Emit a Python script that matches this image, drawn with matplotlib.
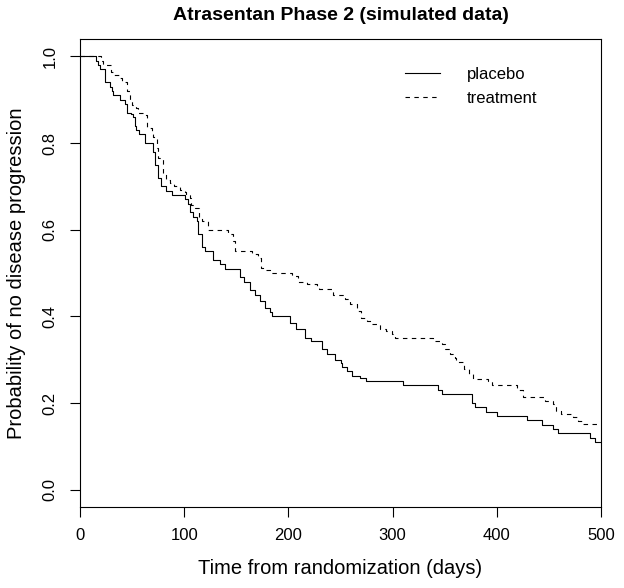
import matplotlib
matplotlib.use("Agg")
import matplotlib.pyplot as plt

plt.rcParams['font.family'] = ['Liberation Sans', 'DejaVu Sans']

# Kaplan-Meier steps: time (days) at which the curve
# drops, and the survival value after the drop
placebo_t = [0, 15, 17, 19, 24, 29, 31, 32, 38, 43, 45, 49, 51, 53, 54, 57, 62,
             70, 72, 75, 78, 83, 88, 101, 104, 106, 108, 112, 113, 117, 120,
             128, 134, 139, 154, 157, 163, 168, 173, 178, 182, 184, 202, 207,
             216, 222, 232, 237, 245, 250, 251, 256, 261, 269, 274, 310, 344,
             347, 376, 379, 390, 400, 429, 443, 454, 459, 489, 494, 500]
placebo_s = [1.0, 0.99, 0.98, 0.97, 0.94, 0.93, 0.92, 0.91, 0.90, 0.89, 0.87,
             0.866, 0.86, 0.84, 0.83, 0.82, 0.80, 0.78, 0.75, 0.72, 0.70, 0.69,
             0.68, 0.67, 0.66, 0.64, 0.63, 0.62, 0.59, 0.56, 0.55, 0.53, 0.52,
             0.51, 0.49, 0.48, 0.46, 0.45, 0.435, 0.42, 0.41, 0.40, 0.385,
             0.37, 0.35, 0.343, 0.324, 0.313, 0.30, 0.293, 0.282, 0.274, 0.263,
             0.257, 0.25, 0.241, 0.23, 0.22, 0.20, 0.19, 0.18, 0.17, 0.16,
             0.15, 0.14, 0.13, 0.12, 0.11, 0.11]

treatment_t = [0, 20, 22, 30, 32, 37, 40, 45, 48, 50, 54, 56, 61, 64, 69, 70,
               74, 75, 80, 83, 86, 90, 96, 101, 102, 106, 107, 110, 114, 117,
               123, 142, 147, 149, 165, 171, 174, 178, 182, 203, 209, 218, 227,
               229, 243, 254, 259, 266, 270, 275, 280, 288, 294, 299, 302, 339,
               347, 350, 355, 360, 361, 369, 373, 377, 392, 395, 419, 425, 446,
               454, 457, 462, 473, 478, 483, 500]
treatment_s = [1.0, 0.99, 0.98, 0.965, 0.956, 0.95, 0.94, 0.92, 0.90, 0.887,
               0.88, 0.87, 0.864, 0.834, 0.826, 0.815, 0.788, 0.765, 0.73,
               0.715, 0.707, 0.70, 0.692, 0.688, 0.68, 0.672, 0.657, 0.65,
               0.627, 0.62, 0.60, 0.59, 0.573, 0.55, 0.543, 0.535, 0.512,
               0.508, 0.50, 0.493, 0.48, 0.474, 0.466, 0.462, 0.45, 0.44,
               0.428, 0.412, 0.397, 0.389, 0.382, 0.37, 0.366, 0.359, 0.351,
               0.343, 0.336, 0.324, 0.313, 0.305, 0.294, 0.278, 0.267, 0.255,
               0.25, 0.241, 0.23, 0.213, 0.205, 0.198, 0.182, 0.175, 0.167,
               0.159, 0.152, 0.152]

x_ticks = [0, 100, 200, 300, 400, 500]
y_ticks = [0.0, 0.2, 0.4, 0.6, 0.8, 1.0]

fig = plt.figure(figsize=(6.24, 5.88), dpi=100)
ax = fig.add_axes([80/624, 1 - 507/588, 521/624, 468/588])

ax.step(placebo_t, placebo_s, where='post', color='black', lw=0.8,
        label='placebo')
ax.step(treatment_t, treatment_s, where='post', color='black', lw=0.8,
        linestyle=(0, (4, 4)), label='treatment')

ax.set_xlim(0, 500)
ax.set_ylim(-0.04, 1.04)
ax.set_xticks(x_ticks)
ax.set_yticks(y_ticks)
ax.set_yticklabels(['%.1f' % v for v in y_ticks], rotation=90, va='center')
ax.tick_params(axis='both', direction='out', length=7, width=0.8,
               labelsize=12, color='black')
ax.tick_params(axis='x', pad=8)
ax.tick_params(axis='y', pad=9)
for sp in ax.spines.values():
    sp.set_linewidth(0.8)
    sp.set_color('black')

ax.set_xlabel('Time from randomization (days)', fontsize=14.5, labelpad=12)
ax.set_ylabel('Probability of no disease progression', fontsize=14.5,
              labelpad=12)
ax.set_title('Atrasentan Phase 2 (simulated data)', fontsize=14,
             fontweight='bold', pad=14)

ax.legend(loc='upper left', bbox_to_anchor=(0.624, 0.94), frameon=False,
          fontsize=12, handlelength=2.1, handletextpad=1.6,
          labelspacing=0.55, borderpad=0, borderaxespad=0)

fig.savefig('out.png', dpi=100)
